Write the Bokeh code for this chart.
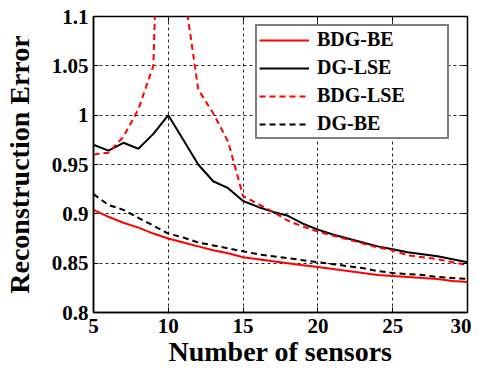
from bokeh.plotting import figure
from bokeh.models import FixedTicker, LinearAxis, Legend, LegendItem, Range1d
from bokeh.embed import file_html
from bokeh.resources import INLINE

sensors = list(range(5, 31))
bdg_be = [0.904, 0.897, 0.891, 0.886, 0.880, 0.875, 0.871, 0.867, 0.863, 0.860,
          0.856, 0.854, 0.852, 0.850, 0.848, 0.846, 0.844, 0.842, 0.840, 0.838,
          0.837, 0.836, 0.835, 0.834, 0.832, 0.831]
dg_lse = [0.970, 0.964, 0.972, 0.966, 0.981, 1.000, 0.975, 0.950, 0.933, 0.926,
          0.913, 0.907, 0.902, 0.898, 0.890, 0.884, 0.879, 0.875, 0.871, 0.867,
          0.864, 0.861, 0.859, 0.857, 0.854, 0.851]
bdg_lse = [0.960, 0.962, 0.978, 1.006, 1.050, 1.550, 1.132, 1.026, 1.002, 0.973,
           0.918, 0.910, 0.902, 0.893, 0.887, 0.882, 0.878, 0.874, 0.870, 0.866,
           0.863, 0.858, 0.856, 0.854, 0.851, 0.848]
dg_be = [0.920, 0.909, 0.904, 0.896, 0.888, 0.880, 0.876, 0.871, 0.868, 0.865,
         0.862, 0.859, 0.857, 0.855, 0.853, 0.851, 0.849, 0.847, 0.845, 0.842,
         0.840, 0.839, 0.838, 0.836, 0.835, 0.834]

x_ticks = [5, 10, 15, 20, 25, 30]
y_ticks = [0.8, 0.85, 0.9, 0.95, 1.0, 1.05, 1.1]
y_tick_labels = ["0.8", "0.85", "0.9", "0.95", "1", "1.05", "1.1"]
series_names = ["BDG-BE", "DG-LSE", "BDG-LSE", "DG-BE"]

FONT = "Liberation Serif"

p = figure(width=471, height=370, output_backend="svg", toolbar_location=None,
           x_range=Range1d(5, 30), y_range=Range1d(0.8, 1.1),
           min_border_left=92, min_border_right=4, min_border_top=16,
           min_border_bottom=58)
p.background_fill_color = "white"
p.border_fill_color = "white"
p.outline_line_color = "black"
p.outline_line_width = 1.5

for ax in (p.xaxis[0], p.yaxis[0]):
    ax.major_tick_in = 5
    ax.major_tick_out = 0
    ax.minor_tick_line_color = None
    ax.axis_line_color = "black"
    ax.axis_line_width = 1.5
    ax.major_label_text_font = FONT
    ax.major_label_text_font_style = "bold"
    ax.major_label_text_font_size = "21px"
    ax.major_label_text_color = "black"
    ax.axis_label_text_font = FONT
    ax.axis_label_text_font_style = "bold"
    ax.axis_label_text_font_size = "28px"
    ax.axis_label_text_color = "black"

p.xaxis.ticker = FixedTicker(ticks=x_ticks)
p.yaxis.ticker = FixedTicker(ticks=y_ticks)
p.yaxis.major_label_overrides = {t: l for t, l in zip(y_ticks, y_tick_labels)}
p.xaxis.axis_label = "Number of sensors"
p.yaxis.axis_label = "Reconstruction Error"
p.xaxis.major_label_standoff = 6
p.yaxis.major_label_standoff = 5
p.xaxis.axis_label_standoff = 0
p.yaxis.axis_label_standoff = 14

for loc, tick in (("above", x_ticks), ("right", y_ticks)):
    a = LinearAxis(ticker=FixedTicker(ticks=tick), major_tick_in=5, major_tick_out=0,
                   minor_tick_line_color=None,
                   major_label_overrides={t: "" for t in tick},
                   major_label_standoff=0, axis_line_color=None)
    p.add_layout(a, loc)

p.xgrid.ticker = FixedTicker(ticks=x_ticks)
p.ygrid.ticker = FixedTicker(ticks=y_ticks)
p.grid.grid_line_color = "black"
p.grid.grid_line_dash = "3 3"
p.grid.grid_line_width = 1
p.grid.grid_line_alpha = 0.85

r1 = p.line(sensors, bdg_be, line_color="#ff0000", line_width=2)
r2 = p.line(sensors, dg_lse, line_color="black", line_width=2)
r3 = p.line(sensors, bdg_lse, line_color="#ff0000", line_width=2, line_dash="6 4")
r4 = p.line(sensors, dg_be, line_color="black", line_width=2, line_dash="6 4")

legend = Legend(items=[LegendItem(label=n, renderers=[r]) for n, r in
                       zip(series_names, [r1, r2, r3, r4])],
                location=(162, 173))
legend.label_text_font = FONT
legend.label_text_font_style = "bold"
legend.label_text_font_size = "20px"
legend.label_text_color = "black"
legend.glyph_width = 50
legend.glyph_height = 20
legend.label_height = 20
legend.label_width = 128
legend.label_standoff = 8
legend.spacing = 5
legend.padding = 2
legend.margin = 0
legend.border_line_color = "black"
legend.border_line_width = 2
legend.background_fill_color = "white"
legend.background_fill_alpha = 1
p.add_layout(legend, "center")

open("out.html", "w").write(file_html(p, INLINE))
